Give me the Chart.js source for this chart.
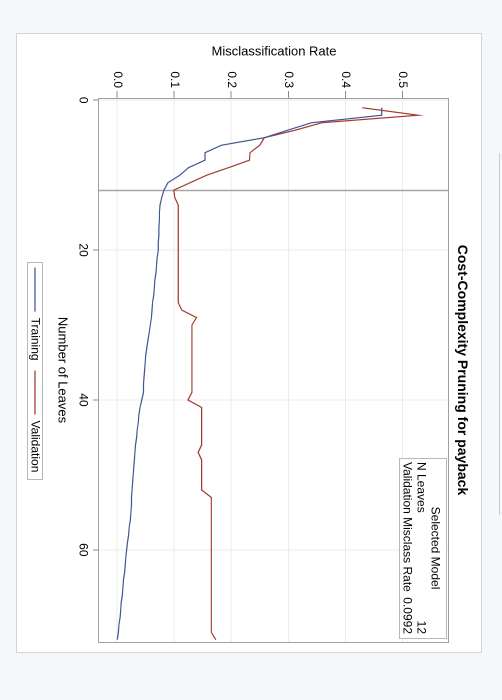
<!DOCTYPE html>
<html>
<head>
<meta charset="utf-8">
<title>Cost-Complexity Pruning for payback</title>
<script src="https://cdn.jsdelivr.net/npm/chart.js@4.4.1/dist/chart.umd.min.js"></script>
<style>
  body { margin: 0; width: 502px; height: 700px; overflow: hidden; position: relative; background: #f5f7fb; }
  /* the chart is drawn upright, then turned a quarter turn clockwise */
  #wrap { position: absolute; left: 0; top: 0; width: 700px; height: 502px;
          transform-origin: 0 0; transform: translate(502px, 0) rotate(90deg); }
  #panel { position: absolute; left: 33px; top: 20px; width: 620px; height: 466px;
           background: #fff; border: 1px solid #d4d4d4; box-sizing: border-box; }
  #chart { position: absolute; left: 33px; top: 20px; }
  #edge { position: absolute; left: 499px; top: 153px; width: 1px; height: 362px; background: #cccccc; }
</style>
</head>
<body>
<div id="wrap">
  <div id="panel"></div>
  <canvas id="chart" width="620" height="466"></canvas>
</div>
<div id="edge"></div>
<script>
const LEAVES = [
  1, 2, 3, 4, 5, 6, 7, 8, 9, 10, 11, 12, 13, 14, 15, 16, 17, 18, 19, 20,
  21, 22, 23, 24, 25, 26, 27, 28, 29, 30, 31, 32, 33, 34, 35, 36, 37, 38, 39, 40,
  41, 42, 43, 44, 45, 46, 47, 48, 49, 50, 51, 52, 53, 54, 55, 56, 57, 58, 59, 60,
  61, 62, 63, 64, 65, 66, 67, 68, 69, 70, 71, 72
];
const TRAINING = [
  0.464, 0.464, 0.341, 0.299, 0.258, 0.183, 0.154, 0.154, 0.125, 0.110,
  0.089, 0.082, 0.078, 0.075, 0.074, 0.074, 0.073, 0.073, 0.072, 0.072,
  0.070, 0.069, 0.068, 0.066, 0.065, 0.064, 0.062, 0.061, 0.060, 0.058,
  0.056, 0.054, 0.052, 0.050, 0.049, 0.048, 0.047, 0.046, 0.046, 0.043,
  0.040, 0.038, 0.037, 0.035, 0.034, 0.032, 0.031, 0.030, 0.029, 0.028,
  0.027, 0.026, 0.025, 0.025, 0.024, 0.023, 0.021, 0.020, 0.018, 0.0165,
  0.015, 0.014, 0.013, 0.011, 0.010, 0.009, 0.007, 0.006, 0.005, 0.003,
  0.002, 0.000
];
const VALIDATION = [
  0.430, 0.528, 0.359, 0.312, 0.258, 0.250, 0.233, 0.232, 0.195, 0.157,
  0.128, 0.0992, 0.101, 0.107, 0.107, 0.107, 0.107, 0.107, 0.107, 0.107,
  0.107, 0.107, 0.107, 0.107, 0.107, 0.107, 0.107, 0.113, 0.139, 0.131,
  0.131, 0.131, 0.131, 0.131, 0.131, 0.131, 0.131, 0.131, 0.131, 0.124,
  0.148, 0.148, 0.148, 0.148, 0.148, 0.148, 0.142, 0.148, 0.148, 0.148,
  0.148, 0.148, 0.165, 0.165, 0.165, 0.165, 0.165, 0.165, 0.165, 0.165,
  0.165, 0.165, 0.165, 0.165, 0.165, 0.165, 0.165, 0.165, 0.165, 0.165,
  0.165, 0.173
];
const X_TICKS = [0, 20, 40, 60];
const Y_TICKS = [0, 0.1, 0.2, 0.3, 0.4, 0.5];
const SELECTED_LEAVES = 12;
const SELECTED_RATE = '0.0992';

const FONT = '"Liberation Sans", Arial, sans-serif';
Chart.defaults.font.family = FONT;
Chart.defaults.color = '#000';

function points(values) {
  return LEAVES.map((leaf, i) => ({ x: leaf, y: values[i] }));
}

// fixed legend height so the plot area lands where it should
const legendHeight = {
  id: 'legendHeight',
  beforeInit(chart) {
    const fit = chart.legend.fit;
    chart.legend.fit = function () {
      fit.bind(chart.legend)();
      this.height = 35;
    };
  }
};

const selectedLine = {
  id: 'selectedLine',
  beforeDatasetsDraw(chart) {
    const { ctx, chartArea, scales } = chart;
    const x = Math.round(scales.x.getPixelForValue(SELECTED_LEAVES)) + 0.5;
    ctx.save();
    ctx.strokeStyle = '#a6a6a6';
    ctx.lineWidth = 1.5;
    ctx.beginPath();
    ctx.moveTo(x, chartArea.top);
    ctx.lineTo(x, chartArea.bottom);
    ctx.stroke();
    ctx.restore();
  }
};

const decorations = {
  id: 'decorations',
  afterDraw(chart) {
    const { ctx, chartArea } = chart;
    ctx.save();
    // plot frame
    ctx.strokeStyle = '#a0a0a0';
    ctx.lineWidth = 1;
    ctx.strokeRect(Math.round(chartArea.left) + 0.5, Math.round(chartArea.top) + 0.5,
      Math.round(chartArea.right - chartArea.left), Math.round(chartArea.bottom - chartArea.top));

    // selected model inset
    const w = 180, h = 47;
    const left = Math.round(chartArea.right) - 4 - w;
    const top = Math.round(chartArea.top) + 2;
    ctx.fillStyle = '#fff';
    ctx.fillRect(left, top, w, h);
    ctx.strokeStyle = '#b8b8b8';
    ctx.strokeRect(left + 0.5, top + 0.5, w, h);
    ctx.fillStyle = '#000';
    ctx.font = '12px ' + FONT;
    ctx.textBaseline = 'middle';
    ctx.textAlign = 'center';
    ctx.fillText('Selected Model', left + w / 2, top + 12);
    ctx.textAlign = 'left';
    ctx.fillText('N Leaves', left + 4, top + 26);
    ctx.fillText('Validation Misclass Rate', left + 4, top + 40);
    ctx.textAlign = 'right';
    ctx.fillText(String(SELECTED_LEAVES), left + w - 4, top + 26);
    ctx.fillText(SELECTED_RATE, left + w - 4, top + 40);

    // border round the legend
    const boxes = chart.legend.legendHitBoxes;
    if (boxes && boxes.length) {
      const l = Math.min(...boxes.map(b => b.left)) - 6;
      const r = Math.max(...boxes.map(b => b.left + b.width)) + 6;
      const t = boxes[0].top - 2;
      ctx.strokeStyle = '#b8b8b8';
      ctx.strokeRect(Math.round(l) + 0.5, Math.round(t) + 0.5, Math.round(r - l), boxes[0].height + 3);
    }
    ctx.restore();
  }
};

new Chart(document.getElementById('chart'), {
  type: 'line',
  data: {
    datasets: [
      {
        label: 'Training',
        data: points(TRAINING),
        borderColor: '#445694',
        backgroundColor: '#445694',
        borderWidth: 1.2,
        pointRadius: 0,
        tension: 0
      },
      {
        label: 'Validation',
        data: points(VALIDATION),
        borderColor: '#a23a2e',
        backgroundColor: '#a23a2e',
        borderWidth: 1.2,
        pointRadius: 0,
        tension: 0
      }
    ]
  },
  options: {
    responsive: false,
    animation: false,
    devicePixelRatio: 2,
    layout: { padding: { left: 0, top: 0, bottom: 0, right: 11 } },
    scales: {
      x: {
        type: 'linear',
        position: 'bottom',
        min: -0.3,
        max: 72.3,
        afterBuildTicks: s => { s.ticks = X_TICKS.map(v => ({ value: v })); },
        afterFit: s => { s.height = 48; },
        border: { display: false },
        grid: { color: '#ececec', tickColor: '#8c8c8c', tickLength: 6 },
        ticks: { font: { size: 12 }, padding: 3, color: '#000' },
        title: {
          display: true,
          text: 'Number of Leaves',
          font: { size: 13, lineHeight: 1.2 },
          color: '#000',
          padding: { top: 0, bottom: 3.2 }
        }
      },
      y: {
        min: -0.032,
        max: 0.582,
        afterBuildTicks: s => { s.ticks = Y_TICKS.map(v => ({ value: v })); },
        afterFit: s => { s.width = 65; },
        border: { display: false },
        grid: { color: '#ececec', tickColor: '#8c8c8c', tickLength: 7 },
        ticks: { font: { size: 12 }, padding: 3, color: '#000', callback: v => v.toFixed(1) },
        title: {
          display: true,
          text: 'Misclassification Rate',
          font: { size: 13, lineHeight: 1.2 },
          color: '#000',
          padding: { top: 11.2, bottom: 0 }
        }
      }
    },
    plugins: {
      title: {
        display: true,
        text: 'Cost-Complexity Pruning for payback',
        fullSize: false,
        color: '#000',
        font: { size: 14, weight: 'bold', lineHeight: 1.2 },
        padding: { top: 11.6, bottom: 4.6 }
      },
      legend: {
        position: 'bottom',
        fullSize: false,
        labels: {
          usePointStyle: true,
          pointStyle: 'line',
          pointStyleWidth: 44,
          boxHeight: 12,
          padding: 10,
          color: '#000',
          font: { size: 12 }
        }
      },
      tooltip: { enabled: false }
    }
  },
  plugins: [legendHeight, selectedLine, decorations]
});
</script>
</body>
</html>
